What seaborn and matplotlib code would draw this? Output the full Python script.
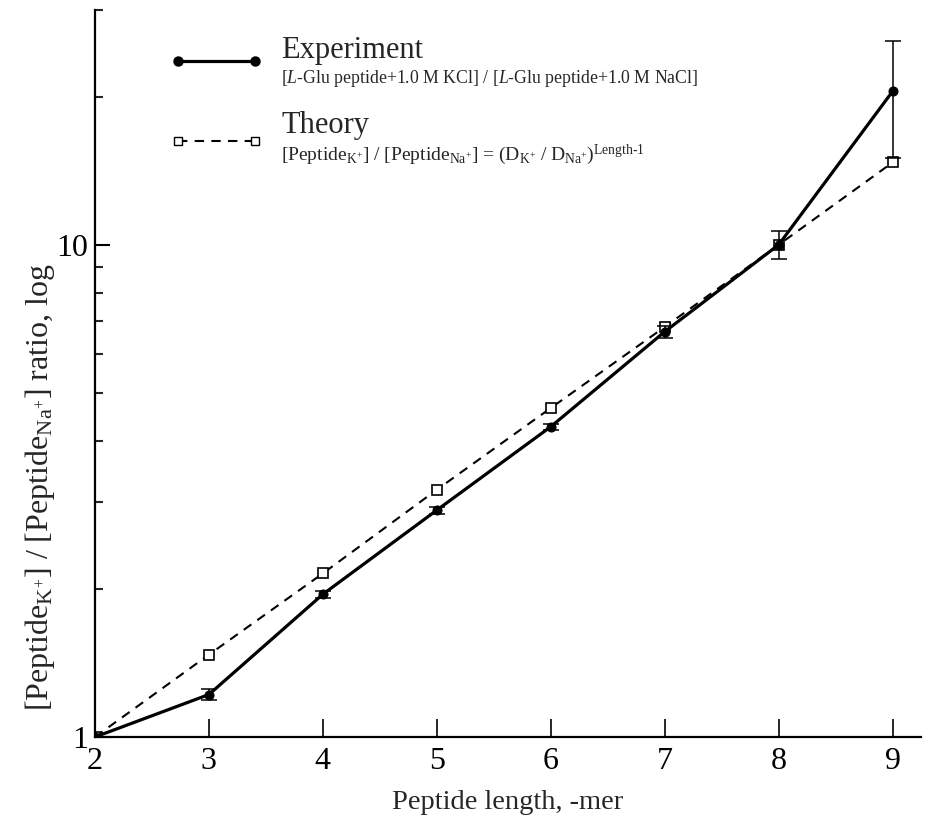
import matplotlib
matplotlib.use("Agg")
import matplotlib.pyplot as plt
import seaborn as sns
import pandas as pd
from matplotlib.lines import Line2D

# ---- data ----
length = [2, 3, 4, 5, 6, 7, 8, 9]
experiment = [1.0, 1.22, 1.95, 2.89, 4.27, 6.66, 10.0, 20.5]
experiment_err = [0.0, 0.03, 0.03, 0.05, 0.06, 0.18, 0.65, 5.5]
theory = [1.0, 1.47, 2.15, 3.18, 4.66, 6.81, 10.0, 14.7]
x_ticks = [2, 3, 4, 5, 6, 7, 8, 9]
y_ticks = [1, 10]
y_tick_labels = ["1", "10"]

exp_df = pd.DataFrame({"length": length, "ratio": experiment, "err": experiment_err})
th_df = pd.DataFrame({"length": length, "ratio": theory})

sns.set_theme(style="ticks")
plt.rcParams["font.family"] = ["Liberation Serif", "DejaVu Serif"]
plt.rcParams["mathtext.fontset"] = "custom"
plt.rcParams["mathtext.rm"] = "Liberation Serif"
plt.rcParams["mathtext.it"] = "Liberation Serif:italic"
plt.rcParams["mathtext.bf"] = "Liberation Serif:bold"

fig = plt.figure(figsize=(9.25, 8.21), dpi=100)
ax = fig.add_axes([0.1027, 0.1023, 0.8930, 0.8855])

sns.lineplot(data=th_df, x="length", y="ratio", ax=ax, color="black",
             linewidth=1.5, linestyle=(0, (4.5, 3.5)), marker="s", markersize=6.5,
             markerfacecolor="white", markeredgecolor="black", markeredgewidth=1.2,
             zorder=2)
ax.errorbar(exp_df["length"], exp_df["ratio"], yerr=exp_df["err"], fmt="none",
            ecolor="black", elinewidth=1.1, capsize=5.5, capthick=1.1, zorder=3)
sns.lineplot(data=exp_df, x="length", y="ratio", ax=ax, color="black",
             linewidth=2.3, marker="o", markersize=6.5, markeredgecolor="black",
             zorder=4)

ax.set_yscale("log")
ax.set_xlim(2, 9.25)
ax.set_ylim(1, 30)
ax.set_xticks(x_ticks)
ax.set_yticks(y_ticks, labels=y_tick_labels)
ax.yaxis.set_minor_formatter(matplotlib.ticker.NullFormatter())

for s in ["top", "right"]:
    ax.spines[s].set_visible(False)
for s in ["left", "bottom"]:
    ax.spines[s].set_linewidth(1.6)
    ax.spines[s].set_color("black")

ax.tick_params(axis="x", which="major", direction="in", length=13, width=1.2,
               labelsize=23, pad=7, colors="black")
ax.tick_params(axis="y", which="major", direction="in", length=11, width=1.5,
               labelsize=23, pad=5, colors="black")
ax.tick_params(axis="y", which="minor", direction="in", length=6, width=1.5)

ax.set_xlabel("Peptide length, -mer", fontsize=20.5, labelpad=10)
ax.set_ylabel(r"[Peptide$_{\mathrm{K}^{+}}$] / [Peptide$_{\mathrm{Na}^{+}}$] ratio, log",
              fontsize=23)
ax.yaxis.set_label_coords(-0.046, 0.344)

# ---- legend drawn manually ----
def fx(px):
    return px / 925.0

def fy(py):
    return 1 - py / 821.0

fig.add_artist(Line2D([fx(178), fx(255)], [fy(61), fy(61)], color="black",
                      linewidth=2.3, marker="o", markersize=6.5,
                      markevery=[0, 1], transform=fig.transFigure))
fig.add_artist(Line2D([fx(178), fx(255)], [fy(141), fy(141)], color="black",
                      linewidth=1.5, linestyle=(0, (4.5, 3.5)), marker="s",
                      markersize=6, markerfacecolor="white",
                      markevery=[0, 1], transform=fig.transFigure))

fig.text(fx(281), fy(58), "Experiment", fontsize=22, ha="left", va="baseline")
fig.text(fx(281), fy(83),
         r"[$\mathit{L}$-Glu peptide+1.0 M KCl] / [$\mathit{L}$-Glu peptide+1.0 M NaCl]",
         fontsize=12.8, ha="left", va="baseline")
fig.text(fx(281), fy(133), "Theory", fontsize=22, ha="left", va="baseline")
fig.text(fx(281), fy(160),
         r"[Peptide$_{\mathrm{K}^{+}}$] / [Peptide$_{\mathrm{Na}^{+}}$] = "
         r"(D$_{\mathrm{K}^{+}}$ / D$_{\mathrm{Na}^{+}}$)$^{\mathrm{Length}\text{-}1}$",
         fontsize=14, ha="left", va="baseline")

fig.savefig("out.png", dpi=100)
